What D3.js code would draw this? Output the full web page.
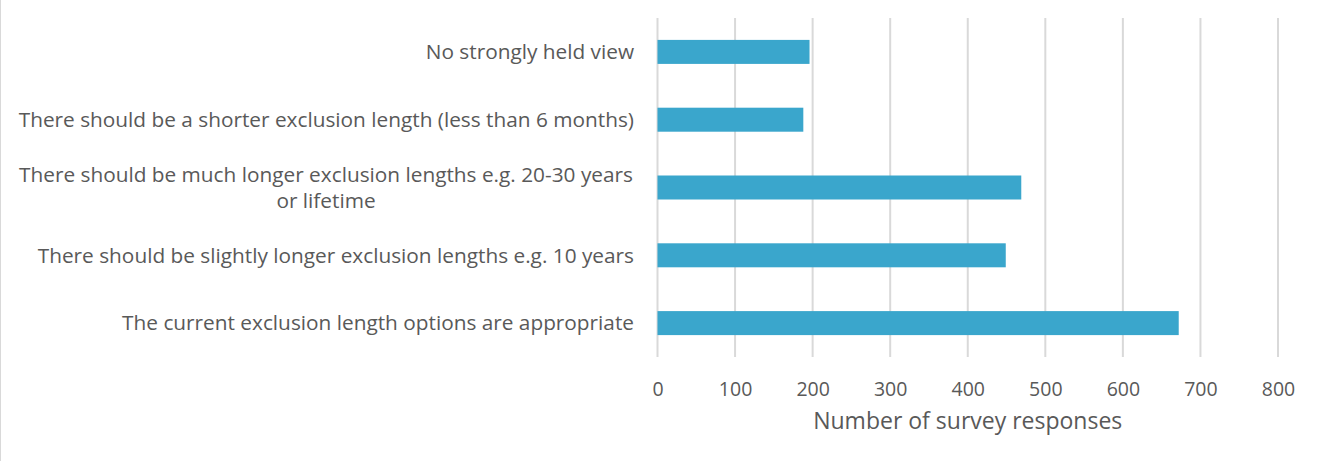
<!DOCTYPE html>
<html><head><meta charset="utf-8">
<script src="https://cdn.jsdelivr.net/npm/d3@7"></script>
<style>
html,body{margin:0;padding:0;background:#fff;}
svg{display:block;font-family:"Open Sans",sans-serif;}
</style></head>
<body>
<svg id="chart" width="1319" height="461"></svg>
<script>
const categories = [
  "No strongly held view",
  "There should be a shorter exclusion length (less than 6 months)",
  "There should be much longer exclusion lengths e.g. 20-30 years|or lifetime",
  "There should be slightly longer exclusion lengths e.g. 10 years",
  "The current exclusion length options are appropriate"
];
const values = [196, 188, 469, 449, 672];
const xTicks = [0, 100, 200, 300, 400, 500, 600, 700, 800];
const xTitle = "Number of survey responses";

(function(){
const svg = d3.select("#chart");
const W = 1319, H = 461;
const pL = 657.5, pR = 1278, pT = 18, pB = 357;

// frame
svg.append("line").attr("x1",0.5).attr("x2",0.5).attr("y1",0).attr("y2",H)
  .attr("stroke","#d9d9d9").attr("stroke-width",1);

const x = d3.scaleLinear().domain([0, 800]).range([pL, pR]);
const y = d3.scaleBand().domain(categories).range([pT, pB]).paddingInner(0.646).paddingOuter(0.323);

// gridlines
svg.append("g").selectAll("line").data(xTicks).join("line")
  .attr("x1", d => x(d)).attr("x2", d => x(d))
  .attr("y1", pT).attr("y2", pB)
  .attr("stroke", "#d9d9d9").attr("stroke-width", 2);

// bars
svg.append("g").selectAll("rect").data(values).join("rect")
  .attr("x", x(0))
  .attr("y", (d,i) => y(categories[i]))
  .attr("width", d => x(d) - x(0))
  .attr("height", y.bandwidth())
  .attr("fill", "#3aa6cc");

// x tick labels
const xAxis = d3.axisBottom(x).tickValues(xTicks).tickSize(0).tickPadding(0);
const gx = svg.append("g").attr("transform", `translate(0,${pB})`).call(xAxis);
gx.select(".domain").remove();
gx.selectAll("text").attr("font-size", 19.5).attr("fill", "#595959")
  .attr("y", 39).attr("dy", 0).attr("font-family", "Open Sans, sans-serif");

// category labels
const labelG = svg.append("g");
categories.forEach((c, i) => {
  const lines = c.split("|");
  const cy = y(c) + y.bandwidth()/2;
  const lh = 26;
  const t = labelG.append("text")
    .attr("fill", "#595959")
    .attr("font-size", 20.8)
    .attr("text-anchor", lines.length > 1 ? "middle" : "end");
  lines.forEach((l, j) => {
    t.append("tspan").attr("x", lines.length > 1 ? 326 : 634)
      .attr("y", cy + (j - (lines.length-1)/2) * lh)
      .attr("dy", "0.35em").text(l);
  });
});

// axis title
svg.append("text").attr("x", (pL+pR)/2).attr("y", 429)
  .attr("text-anchor", "middle").attr("font-size", 23).attr("fill", "#595959")
  .text(xTitle);
})();
</script>
</body></html>
